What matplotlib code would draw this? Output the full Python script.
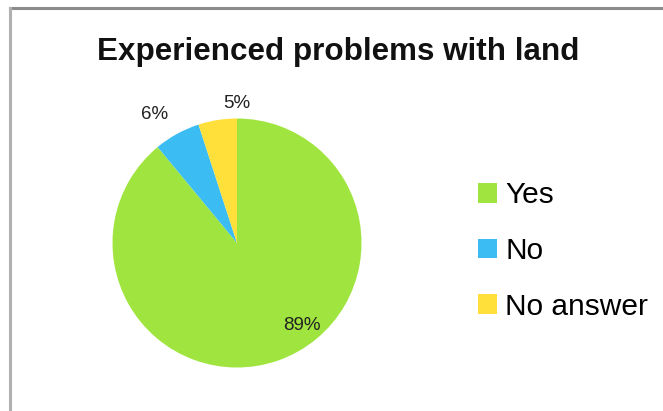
import matplotlib
matplotlib.use("Agg")
import matplotlib.pyplot as plt
from matplotlib.patches import Rectangle
import numpy as np

categories = ["Yes", "No", "No answer"]
values = [89, 6, 5]
pct_labels = ["89%", "6%", "5%"]
colors = ["#a0e53f", "#3bbcf3", "#ffe03a"]
title = "Experienced problems with land"

W, H = 663, 411
fig = plt.figure(figsize=(W / 100, H / 100), dpi=100)
fig.patch.set_facecolor("white")

# frame lines (top and left)
fig.add_artist(plt.Line2D([9.5 / W, 1], [1 - 8.5 / H, 1 - 8.5 / H], color="#8c8c8c", lw=2.2))
fig.add_artist(plt.Line2D([9.5 / W, 9.5 / W], [0, 1 - 8.5 / H], color="#b0b0b0", lw=2.2))

cx, cy, r = 237, 243, 124.5
ax = fig.add_axes([(cx - r) / W, 1 - (cy + r) / H, 2 * r / W, 2 * r / H])
wedges, _ = ax.pie(values, colors=colors, startangle=90, counterclock=False,
                   radius=1, wedgeprops=dict(linewidth=0))
ax.set_xlim(-1, 1)
ax.set_ylim(-1, 1)
ax.set_aspect("auto")
ax.axis("off")

# percentage labels (positions in pie-radius units)
label_pos = [(0.52, -0.66), (-0.66, 1.03), (0.0, 1.12)]
for t, (lx, ly) in zip(pct_labels, label_pos):
    ax.text(lx, ly, t, ha="center", va="center", fontsize=13.5,
            family="Liberation Sans", color="#222222", clip_on=False)

fig.text(338 / W, 1 - 52 / H, title, ha="center", va="center",
         fontsize=22.6, fontweight="bold", family="Liberation Sans", color="#111111")

fs = 21.5
fpx = fs * 100 / 72
handles = [Rectangle((0, 0), 1, 1, facecolor=c, edgecolor="none") for c in colors]
leg = fig.legend(handles, categories, loc="center left",
                 bbox_to_anchor=(478 / W, 1 - 251 / H), frameon=False,
                 prop=dict(family="Liberation Sans", size=fs),
                 handlelength=19 / fpx, handleheight=19 / fpx,
                 handletextpad=8 / fpx, labelspacing=0.93,
                 borderaxespad=0, borderpad=0)

fig.savefig("out.png", dpi=100, facecolor="white")
